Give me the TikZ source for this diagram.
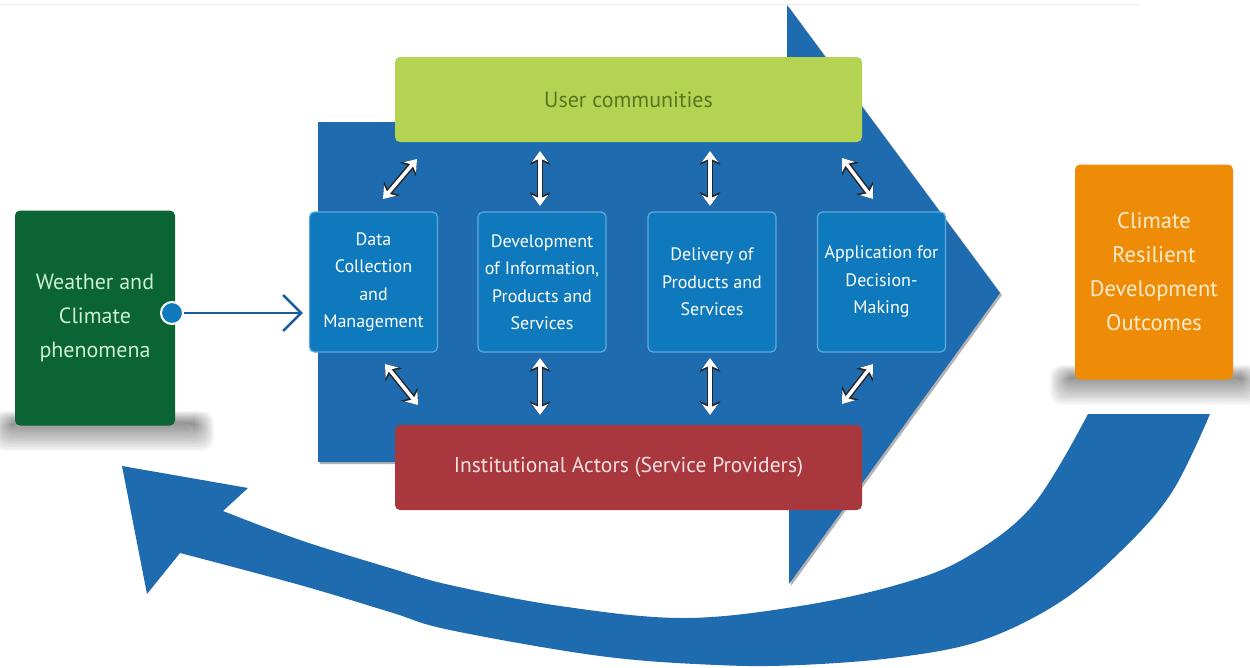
\documentclass[tikz,border=0pt]{standalone}
\usepackage{fontspec}
\setmainfont{PT Sans}
\usetikzlibrary{arrows.meta,shadows}
\definecolor{bigblue}{RGB}{31,107,176}
\definecolor{boxblue}{RGB}{14,121,188}
\definecolor{boxedge}{RGB}{95,170,220}
\definecolor{limegreen}{RGB}{181,211,83}
\definecolor{limetext}{RGB}{88,118,34}
\definecolor{darkred}{RGB}{168,56,62}
\definecolor{redtext}{RGB}{245,225,225}
\definecolor{forest}{RGB}{10,100,52}
\definecolor{foresttext}{RGB}{205,240,205}
\definecolor{orangebox}{RGB}{238,140,8}
\definecolor{orangetext}{RGB}{255,236,205}
\definecolor{connblue}{RGB}{24,92,160}
\newcommand\twoheadarr[2]{%
  \draw[dblshadow] (#1) -- (#2);
  \draw[dblwhite] (#1) -- (#2);}
% soft shadow under a box: left x, right x, bottom y
\newcommand\softshadow[3]{%
  \foreach \i in {0,...,13}{%
    \fill[black, opacity=0.035, rounded corners=12pt]
      ({#1-16+\i*1.5},{#3-14+\i*0.9}) rectangle ({#2+16-\i*1.5},{#3+26-\i*2.1});}}
\begin{document}
\begin{tikzpicture}[x=1pt,y=-1pt,
  stepbox/.style={draw=boxedge, line width=1.2pt, fill=boxblue, rounded corners=5pt,
    minimum width=128pt, minimum height=140pt, align=center, text=white,
    font=\fontsize{18}{27.5}\selectfont, inner sep=2pt},
  bandbox/.style={rounded corners=5pt, minimum width=467pt, minimum height=85pt},
  sidebox/.style={rounded corners=5pt, minimum width=160pt, minimum height=215pt,
    align=center, font=\fontsize{22}{34}\selectfont},
  dblshadow/.style={draw=black!85, line width=6.5pt,
    {Stealth[length=14pt,width=21pt]}-{Stealth[length=14pt,width=21pt]}},
  dblwhite/.style={draw=white, line width=3.5pt,
    {Stealth[length=11pt,width=16pt]}-{Stealth[length=11pt,width=16pt]}},
  conn/.style={draw=connblue, line width=2.5pt, -{Straight Barb[length=18pt,width=36pt,line width=2.5pt]}}
]
\useasboundingbox (0,0) rectangle (1250,667);
\fill[white] (0,0) rectangle (1250,667);
\draw[black!8, line width=1pt] (0,4) -- (1140,4);

% big chevron arrow
\fill[bigblue, drop shadow={shadow xshift=2pt, shadow yshift=-2pt, opacity=0.6}]
  (318,122) -- (787,122) -- (787,5) -- (1000,293) -- (789,584) -- (789,462) -- (318,462) -- cycle;

% curved return arrow
\fill[bigblue]
  plot[smooth, tension=0.6] coordinates {(1210,414) (1172,492) (1122,550) (1060,602) (983,640) (900,657) (800,665) (717,665) (600,656) (450,630) (390,612) (300,585) (180,553)}
  -- (147,594) -- (122,466) -- (248,488) -- (223,511)
  -- plot[smooth, tension=0.6] coordinates {(223,511) (300,540) (390,568) (450,585) (560,606) (683,618) (800,606) (900,584) (967,557) (1033,505) (1088,414)}
  -- cycle;

% bands
\node[bandbox, fill=limegreen, text=limetext, font=\fontsize{22}{28}\selectfont] (users) at (628.5,99.5) {User communities};
\node[bandbox, fill=darkred, text=redtext, font=\fontsize{21.5}{28}\selectfont] (actors) at (628.5,467.5) {Institutional Actors (Service Providers)};

% step boxes
\node[stepbox] (dc) at (373.5,282) {Data\\Collection\\and\\Management};
\node[stepbox] (dev) at (542,282) {Development\\of Information,\\Products and\\Services};
\node[stepbox] (del) at (712,282) {Delivery of\\Products and\\Services};
\node[stepbox] (app) at (881.5,282) {Application for\\Decision-\\Making};

% side boxes with soft shadows
\softshadow{8}{198}{425}
\softshadow{1066}{1245}{379}
\node[sidebox, fill=forest, text=foresttext] (wcl) at (95,318) {Weather and\\Climate\\phenomena};
\node[sidebox, fill=orangebox, text=orangetext, minimum width=158pt, font=\fontsize{22.5}{34}\selectfont] (crd) at (1154,272) {Climate\\Resilient\\Development\\Outcomes};

% connector
\node[circle, fill=boxblue, draw=white, line width=2pt, minimum size=22pt, inner sep=0pt] (dot) at (172,313) {};
\draw[conn, shorten >=6pt] (dot.east) -- (dc.west |- dot.east);

% double arrows
\coordinate (t1a) at (383,199); \coordinate (t1b) at (417,159);
\coordinate (t2a) at (540,151); \coordinate (t2b) at (540,206);
\coordinate (t3a) at (710,151); \coordinate (t3b) at (710,206);
\coordinate (t4a) at (842,158); \coordinate (t4b) at (873,199);
\coordinate (b1a) at (385,364); \coordinate (b1b) at (418,405);
\coordinate (b2a) at (540,358); \coordinate (b2b) at (540,415);
\coordinate (b3a) at (710,358); \coordinate (b3b) at (710,415);
\coordinate (b4a) at (873,364); \coordinate (b4b) at (842,404);
\twoheadarr{t1a}{t1b}
\twoheadarr{t2a}{t2b}
\twoheadarr{t3a}{t3b}
\twoheadarr{t4a}{t4b}
\twoheadarr{b1a}{b1b}
\twoheadarr{b2a}{b2b}
\twoheadarr{b3a}{b3b}
\twoheadarr{b4a}{b4b}
\end{tikzpicture}
\end{document}
